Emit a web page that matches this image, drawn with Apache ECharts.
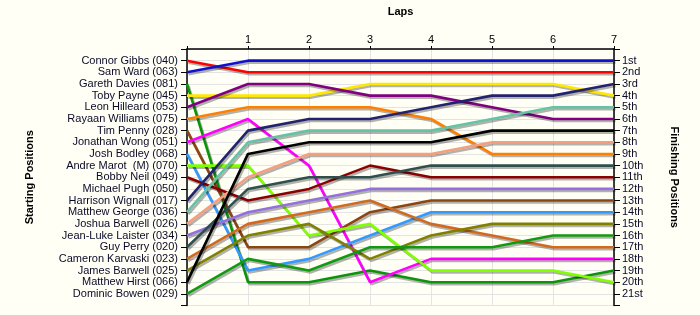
<!DOCTYPE html>
<html>
<head>
<meta charset="utf-8">
<script src="https://cdn.jsdelivr.net/npm/echarts@6/dist/echarts.min.js"></script>
<style>
html,body{margin:0;padding:0;background:#FFFFF6;}
#chart{width:700px;height:315px;}
</style>
</head>
<body>
<div id="chart"></div>
<script>
// Starting grid order (position 1..21)
var startNames = [
  "Connor Gibbs (040)", "Sam Ward (063)", "Gareth Davies (081)", "Toby Payne (045)",
  "Leon Hilleard (053)", "Rayaan Williams (075)", "Tim Penny (028)", "Jonathan Wong (051)",
  "Josh Bodley (068)", "Andre Marot  (M) (070)", "Bobby Neil (049)", "Michael Pugh (050)",
  "Harrison Wignall (017)", "Matthew George (036)", "Joshua Barwell (026)", "Jean-Luke Laister (034)",
  "Guy Perry (020)", "Cameron Karvaski (023)", "James Barwell (025)", "Matthew Hirst (066)",
  "Dominic Bowen (029)"
];
var finishLabels = ["1st","2nd","3rd","4th","5th","6th","7th","8th","9th","10th","11th",
  "12th","13th","14th","15th","16th","17th","18th","19th","20th","21st"];
var laps = [0, 1, 2, 3, 4, 5, 6, 7];

// Position at start (lap 0) and after laps 1..7, one array per driver
var connorGibbs      = [1, 2, 2, 2, 2, 2, 2, 2];
var samWard          = [2, 1, 1, 1, 1, 1, 1, 1];
var garethDavies     = [3, 20, 20, 19, 20, 20, 20, 19];
var tobyPayne        = [4, 4, 4, 3, 3, 3, 3, 4];
var leonHilleard     = [5, 3, 3, 4, 4, 5, 6, 6];
var rayaanWilliams   = [6, 5, 5, 5, 6, 9, 9, 9];
var timPenny         = [7, 17, 17, 14, 13, 13, 13, 13];
var jonathanWong     = [8, 6, 10, 20, 18, 18, 18, 18];
var joshBodley       = [9, 19, 18, 16, 14, 14, 14, 14];
var andreMarot       = [10, 10, 16, 15, 19, 19, 19, 20];
var bobbyNeil        = [11, 13, 12, 10, 11, 11, 11, 11];
var harrisonWignall  = [13, 7, 6, 6, 5, 4, 4, 3];
var matthewGeorge    = [14, 8, 7, 7, 7, 6, 5, 5];
var joshuaBarwell    = [15, 11, 9, 9, 9, 8, 8, 8];
var jeanLukeLaister  = [16, 14, 13, 12, 12, 12, 12, 12];
var guyPerry         = [17, 12, 11, 11, 10, 10, 10, 10];
var cameronKarvaski  = [18, 15, 14, 13, 15, 16, 17, 17];
var jamesBarwell     = [19, 16, 15, 18, 16, 15, 15, 15];
var matthewHirst     = [20, 9, 8, 8, 8, 7, 7, 7];
var dominicBowen     = [21, 18, 19, 17, 17, 17, 16, 16];

var drivers = [
  {name: "Connor Gibbs (040)", pos: connorGibbs, color: "#FF0000"},
  {name: "Sam Ward (063)", pos: samWard, color: "#1010D0"},
  {name: "Gareth Davies (081)", pos: garethDavies, color: "#0A940A"},
  {name: "Toby Payne (045)", pos: tobyPayne, color: "#FFE800"},
  {name: "Leon Hilleard (053)", pos: leonHilleard, color: "#800080"},
  {name: "Rayaan Williams (075)", pos: rayaanWilliams, color: "#FF8000"},
  {name: "Tim Penny (028)", pos: timPenny, color: "#8B4513"},
  {name: "Jonathan Wong (051)", pos: jonathanWong, color: "#FF00FF"},
  {name: "Josh Bodley (068)", pos: joshBodley, color: "#3399FF"},
  {name: "Andre Marot  (M) (070)", pos: andreMarot, color: "#80FF00"},
  {name: "Bobby Neil (049)", pos: bobbyNeil, color: "#8B0000"},
  {name: "Harrison Wignall (017)", pos: harrisonWignall, color: "#22226E"},
  {name: "Matthew George (036)", pos: matthewGeorge, color: "#66C2A5"},
  {name: "Joshua Barwell (026)", pos: joshuaBarwell, color: "#F4A080"},
  {name: "Jean-Luke Laister (034)", pos: jeanLukeLaister, color: "#9370DB"},
  {name: "Guy Perry (020)", pos: guyPerry, color: "#2F4F4F"},
  {name: "Cameron Karvaski (023)", pos: cameronKarvaski, color: "#D2691E"},
  {name: "James Barwell (025)", pos: jamesBarwell, color: "#808000"},
  {name: "Matthew Hirst (066)", pos: matthewHirst, color: "#000000"},
  {name: "Dominic Bowen (029)", pos: dominicBowen, color: "#119911"}
];

var FONT = "Liberation Sans";
var TXT = "#0A0A28";

var series = drivers.map(function (d) {
  return {
    type: "line",
    name: d.name,
    data: laps.map(function (l, i) { return [l, d.pos[i]]; }),
    symbol: "none",
    animation: false,
    lineStyle: {
      color: d.color, width: 2.6,
      shadowColor: "rgba(0,0,0,0.3)", shadowBlur: 0,
      shadowOffsetX: 1.5, shadowOffsetY: 2
    },
    z: 3
  };
});

var chart = echarts.init(document.getElementById("chart"), null, {renderer: "canvas"});
chart.setOption({
  backgroundColor: "#FFFFF6",
  animation: false,
  grid: {left: 187, right: 86, top: 49, bottom: 9.5, containLabel: false},
  xAxis: {
    type: "value", position: "top", min: 0, max: 7, interval: 1,
    name: "Laps", nameLocation: "middle", nameGap: 32,
    nameTextStyle: {fontFamily: FONT, fontSize: 11, fontWeight: "bold", color: "#000"},
    axisLine: {lineStyle: {color: "#000", width: 1.5}},
    axisTick: {length: 3, lineStyle: {color: "#000"}},
    axisLabel: {
      fontFamily: FONT, fontSize: 11, color: "#000", margin: 4,
      formatter: function (v) { return v === 0 ? "" : String(v); }
    },
    splitLine: {show: true, lineStyle: {color: "#E4E4E4", width: 1}}
  },
  yAxis: [
    {
      type: "value", position: "left", min: 0, max: 22, interval: 1, inverse: true,
      name: "Starting Positions", nameLocation: "middle", nameRotate: 90, nameGap: 152,
      nameTextStyle: {fontFamily: FONT, fontSize: 11, fontWeight: "bold", color: "#000"},
      axisLine: {show: true, lineStyle: {color: "#000", width: 1.5}},
      axisTick: {show: true, length: 6, lineStyle: {color: "#000"}},
      axisLabel: {
        fontFamily: FONT, fontSize: 11, color: TXT, margin: 9,
        formatter: function (v) { return (v >= 1 && v <= startNames.length) ? startNames[v - 1] : ""; }
      },
      splitLine: {show: true, lineStyle: {color: "#E4E4E4", width: 1}}
    },
    {
      type: "value", position: "right", min: 0, max: 22, interval: 1, inverse: true,
      name: "Finishing Positions", nameLocation: "middle", nameRotate: -90, nameGap: 55,
      nameTextStyle: {fontFamily: FONT, fontSize: 11, fontWeight: "bold", color: "#000"},
      axisLine: {show: true, lineStyle: {color: "#000", width: 1.5}},
      axisTick: {show: true, length: 6, lineStyle: {color: "#000"}},
      axisLabel: {
        fontFamily: FONT, fontSize: 11, color: TXT, margin: 8,
        formatter: function (v) { return (v >= 1 && v <= finishLabels.length) ? finishLabels[v - 1] : ""; }
      },
      splitLine: {show: false}
    }
  ],
  series: series
});
</script>
</body>
</html>
